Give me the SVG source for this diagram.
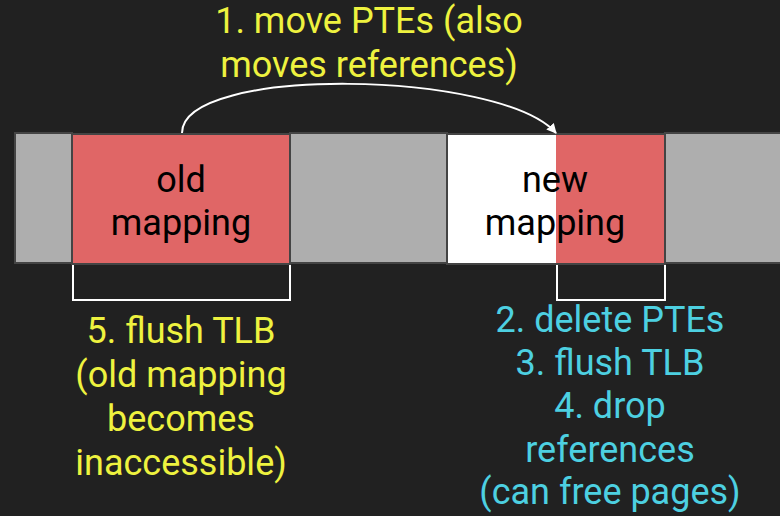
<svg xmlns="http://www.w3.org/2000/svg" width="780" height="516" viewBox="0 0 780 516">
<defs>
<style>
.t{font-family:"Roboto","Noto Sans",sans-serif;font-size:36px;text-anchor:middle}
.y{fill:#eef23f}
.c{fill:#4dd0e1}
.k{fill:#000}
.seg{stroke:#444;stroke-width:2}
.br{fill:none;stroke:#fff;stroke-width:2}
</style>
<marker id="ah" markerWidth="10" markerHeight="10" refX="9" refY="5" orient="auto" markerUnits="userSpaceOnUse">
<path d="M0,0 L10,5 L0,10 Z" fill="#fff"/>
</marker>
</defs>
<rect width="780" height="516" fill="#212121"/>
<g id="bar">
<rect class="seg" x="15" y="133" width="57" height="130" fill="#aeaeae"/>
<rect class="seg" x="290" y="133" width="157" height="130" fill="#aeaeae"/>
<rect class="seg" x="665" y="133" width="120" height="130" fill="#aeaeae"/>
</g>
<g id="old">
<rect class="seg" x="72" y="134" width="218" height="130" fill="#e06666"/>
<text class="t k" x="181" y="192">old</text>
<text class="t k" x="181" y="235">mapping</text>
</g>
<g id="new">
<rect x="447" y="134" width="109" height="130" fill="#fff"/>
<rect x="556" y="134" width="109" height="130" fill="#e06666"/>
<rect class="seg" x="447" y="134" width="218" height="130" fill="none"/>
<text class="t k" x="555" y="192">new</text>
<text class="t k" x="555" y="235">mapping</text>
</g>
<g id="connectors">
<path d="M182,133 C182,65 500,70 556,133" fill="none" stroke="#fff" stroke-width="2" marker-end="url(#ah)"/>
<path class="br" d="M73,265 V300 H290 V265"/>
<path class="br" d="M557,265 V300 H665 V265"/>
</g>
<g id="label1">
<text class="t y" x="369" y="33">1. move PTEs (also</text>
<text class="t y" x="369" y="77">moves references)</text>
</g>
<g id="label5">
<text class="t y" x="181" y="343">5. flush TLB</text>
<text class="t y" x="181" y="387">(old mapping</text>
<text class="t y" x="181" y="431">becomes</text>
<text class="t y" x="181" y="475">inaccessible)</text>
</g>
<g id="label2">
<text class="t c" x="610" y="332">2. delete PTEs</text>
<text class="t c" x="610" y="375">3. flush TLB</text>
<text class="t c" x="610" y="418">4. drop</text>
<text class="t c" x="610" y="462">references</text>
<text class="t c" x="610" y="504">(can free pages)</text>
</g>
</svg>
